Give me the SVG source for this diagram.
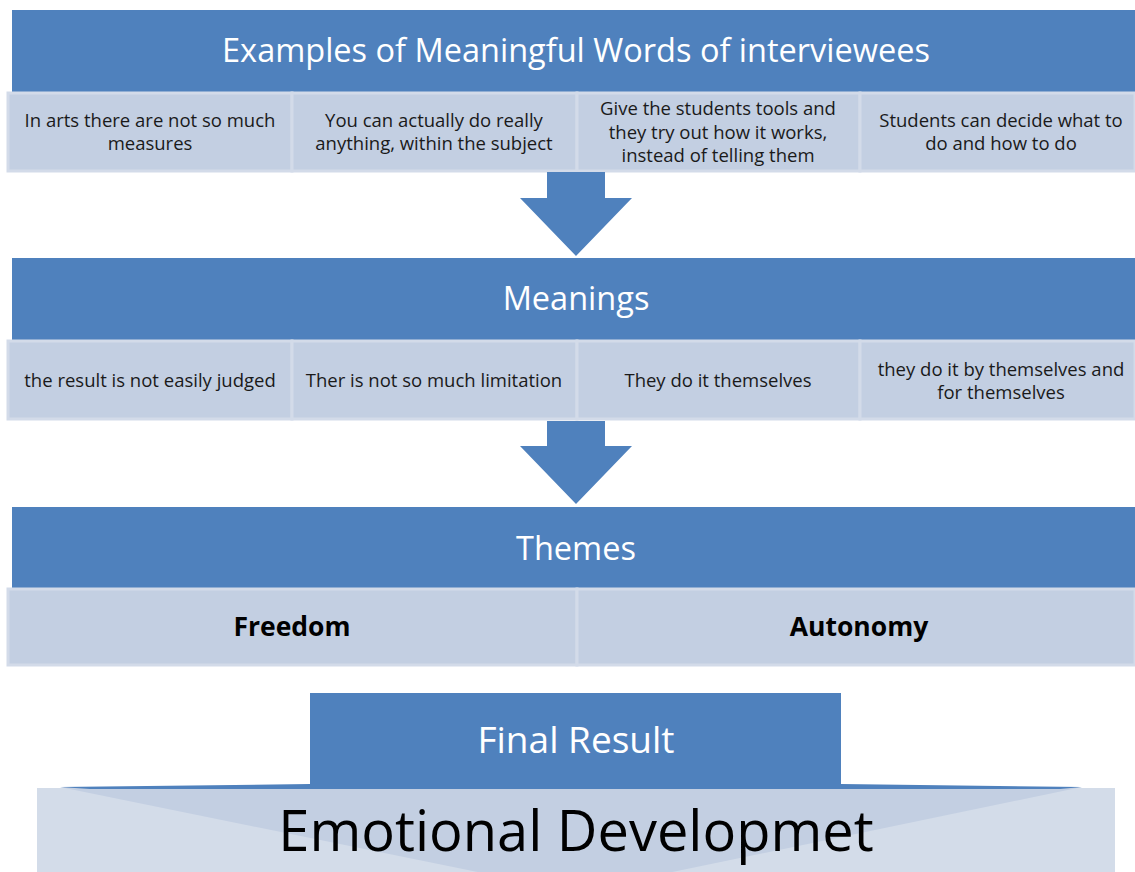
<svg xmlns="http://www.w3.org/2000/svg" width="1135" height="872" viewBox="0 0 1135 872">
<style>
.hdr{fill:#4f81bd}
.cell{fill:#c3cfe2;stroke:#d3dbe9;stroke-width:3}
.ht{font-family:"Open Sans","Liberation Sans",sans-serif;fill:#fff;text-anchor:middle}
.ct{font-family:"Open Sans","Liberation Sans",sans-serif;font-size:18.5px;fill:#1a1a1a;text-anchor:middle}
.bt{font-family:"Open Sans","Liberation Sans",sans-serif;font-size:26.5px;font-weight:bold;fill:#000;text-anchor:middle}
.arr{fill:#4f81bd}
</style>
<rect width="1135" height="872" fill="#fff"/>
<g id="examples">
<rect class="hdr" x="12" y="10" width="1123" height="82"/>
<text class="ht" x="576" y="62" font-size="32.5">Examples of Meaningful Words of interviewees</text>
</g>
<g id="ex1"><rect class="cell" x="8" y="93" width="284" height="78"/>
<text class="ct" x="150" y="127">In arts there are not so much</text><text class="ct" x="150" y="150">measures</text></g>
<g id="ex2"><rect class="cell" x="292" y="93" width="285" height="78"/>
<text class="ct" x="434" y="127">You can actually do really</text><text class="ct" x="434" y="150">anything, within the subject</text></g>
<g id="ex3"><rect class="cell" x="577" y="93" width="283" height="78"/>
<text class="ct" x="718" y="115">Give the students tools and</text><text class="ct" x="718" y="139">they try out how it works,</text><text class="ct" x="718" y="162">instead of telling them</text></g>
<g id="ex4"><rect class="cell" x="860" y="93" width="275" height="78"/>
<text class="ct" x="1001" y="127">Students can decide what to</text><text class="ct" x="1001" y="150">do and how to do</text></g>

<g id="connectors">
<polygon class="arr" points="547,172 605,172 605,198 632,198 576,256 520,198 547,198"/>
<polygon class="arr" points="547,421 605,421 605,446 632,446 576,504 520,446 547,446"/>
</g>

<g id="meanings">
<rect class="hdr" x="12" y="258" width="1123" height="82"/>
<text class="ht" x="576" y="310" font-size="32.5">Meanings</text>
</g>
<g id="m1"><rect class="cell" x="8" y="341" width="284" height="78"/><text class="ct" x="150" y="387">the result is not easily judged</text></g>
<g id="m2"><rect class="cell" x="292" y="341" width="285" height="78"/><text class="ct" x="434" y="387">Ther is not so much limitation</text></g>
<g id="m3"><rect class="cell" x="577" y="341" width="283" height="78"/><text class="ct" x="718" y="387">They do it themselves</text></g>
<g id="m4"><rect class="cell" x="860" y="341" width="275" height="78"/>
<text class="ct" x="1001" y="376">they do it by themselves and</text><text class="ct" x="1001" y="399">for themselves</text></g>

<g id="themes">
<rect class="hdr" x="12" y="507" width="1123" height="81"/>
<text class="ht" x="576" y="560" font-size="32.5">Themes</text>
</g>
<g id="t1"><rect class="cell" x="8" y="589" width="569" height="76"/><text class="bt" x="292" y="636">Freedom</text></g>
<g id="t2"><rect class="cell" x="577" y="589" width="558" height="76"/><text class="bt" x="859" y="636">Autonomy</text></g>

<g id="final">
<rect class="hdr" x="310" y="693" width="531" height="93"/>
<text class="ht" x="576" y="753" font-size="37">Final Result</text>
</g>
<g id="emotional">
<rect x="37" y="788" width="1078" height="84" fill="#d3dce9"/>
<polygon points="60,787 1082,787 576,892" fill="#c3cfe2"/>
<polygon points="60,787 310,784 841,784 1082,787 1060,789 90,789" fill="#4f81bd"/>
<text x="576" y="851" font-family="Open Sans, Liberation Sans, sans-serif" font-size="56" fill="#000" text-anchor="middle">Emotional Developmet</text>
</g>
</svg>
